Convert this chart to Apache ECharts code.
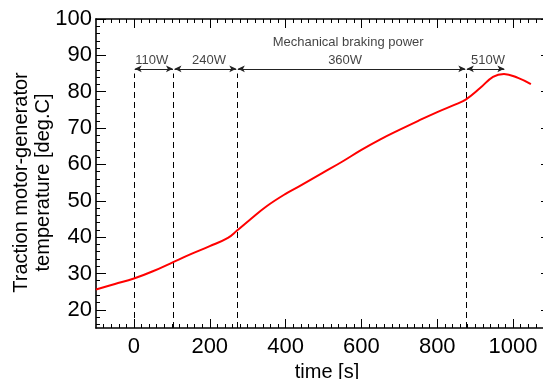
<!DOCTYPE html>
<html><head><meta charset="utf-8">
<script src="https://cdn.jsdelivr.net/npm/echarts@6/dist/echarts.min.js"></script>
<style>html,body{margin:0;padding:0;background:#fff}#c{width:543px;height:379px}</style>
</head><body><div id="c"></div>
<script>
// ---- data ----
const timeS = [-100, -50, 0, 50, 105, 150, 200, 248, 272, 306, 350, 400, 438, 500, 550, 600, 650, 700, 750, 800, 850, 876, 913, 947, 976, 1013, 1047];
const tempC = [25.6, 27.1, 28.6, 30.6, 33.2, 35.3, 37.5, 39.8, 41.8, 44.8, 48.5, 51.9, 54.1, 57.8, 60.8, 64.0, 66.9, 69.5, 72.0, 74.4, 76.6, 77.9, 81.0, 84.1, 84.9, 83.8, 82.1];

const boundaries = [0, 105, 272, 876];
const segStart = [0, 105, 272, 876];
const segEnd = [105, 272, 876, 979];
const powerLabels = ['110W', '240W', '360W', '510W'];
const powerLabelX = [47, 198, 557, 934];
const powerLabelY = 88.5;
const arrowY = 86.3;
const dashTop = 85;
const titleText = 'Mechanical braking power';
const titleX = 565;
const titleY = 93.6;

const xMajor = [0, 200, 400, 600, 800, 1000];
const yMajor = [20, 30, 40, 50, 60, 70, 80, 90, 100];
const xMinor = [];
for (let v = -80; v <= 1100; v += 20) if (v % 200 !== 0) xMinor.push(v);
const yMinor = [];
for (let v = 16; v <= 100; v += 2) if (v % 10 !== 0) yMinor.push(v);

const X_MIN = -100, X_MAX = 1100, Y_MIN = 15, Y_MAX = 100;
const FONT = '"Liberation Sans", Arial, Helvetica, sans-serif';

// ---- chart ----
const chart = echarts.init(document.getElementById('c'), null, {renderer: 'canvas'});

function xAx(pos, ticks, len, showLine, extra) {
  return Object.assign({
    type: 'value', position: pos, min: X_MIN, max: X_MAX,
    axisLine: {show: showLine, onZero: false, lineStyle: {color: '#000', width: 1.6}},
    axisTick: {show: true, inside: true, length: len, customValues: ticks, lineStyle: {color: '#000', width: 1}},
    axisLabel: {show: false},
    splitLine: {show: false}, minorTick: {show: false}
  }, extra || {});
}
function yAx(pos, ticks, len, showLine, extra) {
  return Object.assign({
    type: 'value', position: pos, min: Y_MIN, max: Y_MAX,
    axisLine: {show: showLine, onZero: false, lineStyle: {color: '#000', width: 1.6}},
    axisTick: {show: true, inside: true, length: len, customValues: ticks, lineStyle: {color: '#000', width: 1}},
    axisLabel: {show: false},
    splitLine: {show: false}, minorTick: {show: false}
  }, extra || {});
}

const option = {
  animation: false,
  backgroundColor: '#fff',
  grid: {left: 96, right: -8, top: 19, bottom: 51, containLabel: false, outerBoundsMode: 'none'},
  xAxis: [
    xAx('bottom', xMajor, 9, true, {
      axisLabel: {show: true, customValues: xMajor, fontSize: 22, color: '#000', margin: 8, fontFamily: FONT,
        formatter: v => String(v)},
      name: 'time [s]', nameLocation: 'middle', nameGap: 34, nameMoveOverlap: false,
      nameTextStyle: {fontSize: 20, color: '#000', fontFamily: FONT, padding: [0, 0, 0, 7]}
    }),
    xAx('bottom', xMinor, 4, false),
    xAx('top', xMajor, 9, true),
    xAx('top', xMinor, 4, false)
  ],
  yAxis: [
    yAx('left', yMajor, 10, true, {
      axisLabel: {show: true, customValues: yMajor, fontSize: 22, color: '#000', margin: 4, fontFamily: FONT,
        formatter: v => String(v)},
      name: 'Traction motor-generator\ntemperature [deg.C]', nameLocation: 'middle', nameRotate: 90, nameGap: 42,
      nameMoveOverlap: false,
      nameTextStyle: {fontSize: 20, lineHeight: 22, color: '#000', fontFamily: FONT, align: 'center', padding: [0, 18, 0, 0]}
    }),
    yAx('left', yMinor, 4, false),
    yAx('right', yMajor, 10, true),
    yAx('right', yMinor, 4, false)
  ],
  series: [
    {
      type: 'line', name: 'temperature', xAxisIndex: 0, yAxisIndex: 0,
      data: timeS.map((t, i) => [t, tempC[i]]),
      smooth: 0.4, symbol: 'none',
      lineStyle: {color: '#ff0000', width: 2}, itemStyle: {color: '#ff0000'},
      z: 5
    },
    {
      type: 'line', name: 'dashed', xAxisIndex: 0, yAxisIndex: 0, data: [], silent: true,
      markLine: {
        silent: true, symbol: ['none', 'none'], label: {show: false},
        lineStyle: {color: '#000', type: [6, 4], width: 1},
        data: boundaries.map(b => [{coord: [b, Y_MIN]}, {coord: [b, dashTop]}])
      }
    },
    {
      type: 'line', name: 'arrows', xAxisIndex: 0, yAxisIndex: 0, data: [], silent: true,
      markLine: {
        silent: true, symbol: ['arrow', 'arrow'], symbolSize: [5, 7], label: {show: false},
        lineStyle: {color: '#222', type: 'solid', width: 1},
        data: segStart.map((s, i) => [{coord: [s + 2, arrowY]}, {coord: [segEnd[i] - 2, arrowY]}])
      }
    },
    {
      type: 'scatter', name: 'labels', xAxisIndex: 0, yAxisIndex: 0, silent: true,
      symbolSize: 1, itemStyle: {color: 'rgba(0,0,0,0)'},
      label: {show: true, position: 'inside', formatter: '{b}', fontSize: 13, color: '#111', fontFamily: FONT},
      labelLayout: {hideOverlap: false},
      data: powerLabels.map((n, i) => ({name: n, value: [powerLabelX[i], powerLabelY]}))
        .concat([{name: titleText, value: [titleX, titleY]}])
    }
  ]
};
chart.setOption(option);
</script>
</body></html>
